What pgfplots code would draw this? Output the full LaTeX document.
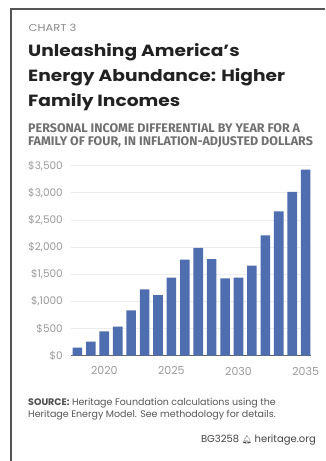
\documentclass[border=0pt]{standalone}
\usepackage{pgfplots}
\pgfplotsset{compat=1.18}
\usepackage{fontspec}
\setmainfont{Poppins}
\newfontfamily\widefont{Poppins}[FakeStretch=1.15]
\newfontfamily\subfont{Fira Sans}
\newfontfamily\emojifont{Noto Emoji}
\definecolor{barblue}{HTML}{4F6EB0}
\definecolor{frame}{HTML}{555555}
\definecolor{titlec}{HTML}{222222}
\definecolor{chartc}{HTML}{8A8A8A}
\definecolor{subc}{HTML}{707070}
\definecolor{tickc}{HTML}{9A9A9A}
\definecolor{gridc}{HTML}{ECECEC}
\definecolor{srcc}{HTML}{555555}
\pgfplotstableread{
year value
2018 150
2019 260
2020 450
2021 535
2022 835
2023 1220
2024 1115
2025 1440
2026 1770
2027 1985
2028 1780
2029 1425
2030 1440
2031 1660
2032 2215
2033 2660
2034 3020
2035 3430
}\incometable
\begin{document}
\begin{tikzpicture}
\useasboundingbox (0pt,0pt) rectangle (325pt,461pt);
\fill[white] (0pt,0pt) rectangle (325pt,461pt);
\draw[frame, line width=1.2pt] (11pt,0pt) -- (11pt,452pt) -- (325pt,452pt);
\node[anchor=base west, inner sep=0pt, text=chartc, font=\widefont\fontsize{10}{12}\selectfont] at (28.5pt,429pt) {CHART 3};
\node[anchor=base west, inner sep=0pt, text=titlec, font=\widefont\fontsize{16.2}{19}\selectfont\bfseries] at (28pt,404pt) {Unleashing America’s};
\node[anchor=base west, inner sep=0pt, text=titlec, font=\widefont\fontsize{16.2}{19}\selectfont\bfseries] at (28pt,379pt) {Energy Abundance: Higher};
\node[anchor=base west, inner sep=0pt, text=titlec, font=\widefont\fontsize{16.2}{19}\selectfont\bfseries] at (28pt,354pt) {Family Incomes};
\node[anchor=base west, inner sep=0pt, text=subc, font=\subfont\fontsize{12.5}{14}\selectfont\bfseries] at (28pt,328.3pt) {PERSONAL INCOME DIFFERENTIAL BY YEAR FOR A};
\node[anchor=base west, inner sep=0pt, text=subc, font=\subfont\fontsize{12.5}{14}\selectfont\bfseries] at (28pt,315pt) {FAMILY OF FOUR, IN INFLATION-ADJUSTED DOLLARS};
\begin{axis}[
  at={(71pt,105.3pt)}, anchor=south west,
  scale only axis, width=240pt, height=190pt,
  xmin=2017.52, xmax=2035.4, ymin=0, ymax=3500,
  clip=false,
  axis x line*=bottom, axis y line*=left,
  y axis line style={draw=none},
  x axis line style={draw=frame!90, line width=0.9pt},
  major tick length=0pt,
  xtick={2020,2025,2030,2035},
  xticklabels={2020,2025,2030,2035},
  ytick={0,500,1000,1500,2000,2500,3000,3500},
  yticklabels={{\$0},{\$500},{\$,1000},{\$1,500},{\$2,000},{\$2,500},{\$3,000},{\$3,500}},
  ymajorgrids, grid style={gridc, line width=0.8pt},
  xticklabel style={inner sep=0pt, anchor=north, yshift=-11pt, text=tickc, font=\fontsize{11}{13}\selectfont},
  yticklabel style={inner sep=0pt, anchor=east, xshift=-8pt, text=tickc, font=\fontsize{10.5}{12}\selectfont},
]
\addplot[ybar, bar width=9.6pt, fill=barblue, draw=none] table[x=year, y=value] {\incometable};
\end{axis}
\node[anchor=base west, inner sep=0pt, text=srcc, font=\fontsize{9.5}{11}\selectfont] at (28pt,56pt) {\textbf{\color{titlec!80}SOURCE:} Heritage Foundation calculations using the};
\node[anchor=base west, inner sep=0pt, text=srcc, font=\fontsize{9.5}{11}\selectfont] at (28pt,43pt) {Heritage Energy Model. See methodology for details.};
\node[anchor=base east, inner sep=0pt, text=titlec!85, font=\fontsize{10}{12}\selectfont] at (316pt,18pt) {BG3258 {\emojifont\fontsize{8}{10}\selectfont 🔔} heritage.org};
\end{tikzpicture}
\end{document}
